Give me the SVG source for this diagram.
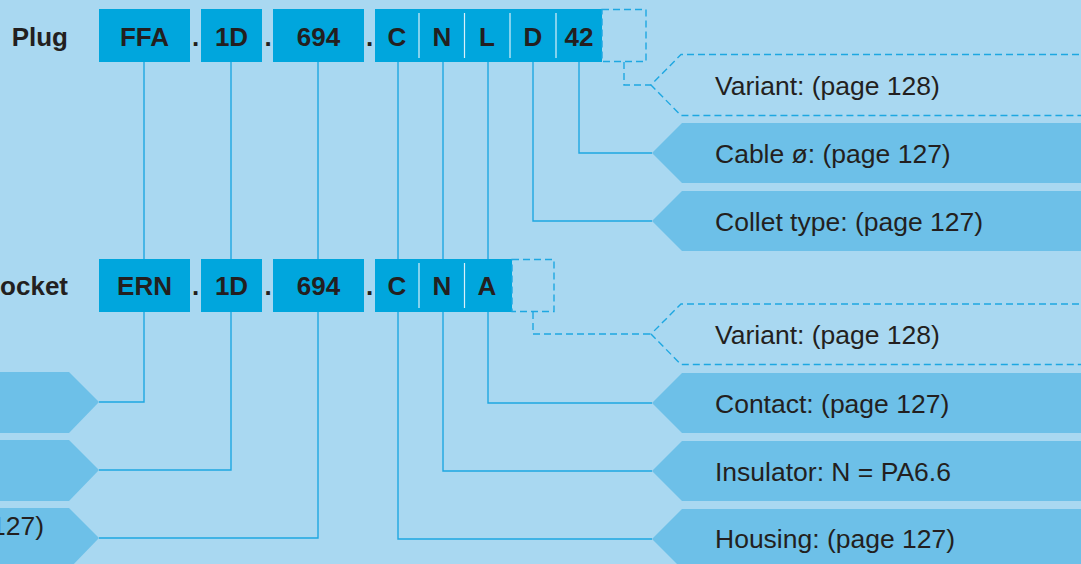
<svg xmlns="http://www.w3.org/2000/svg" width="1081" height="564" viewBox="0 0 1081 564">
<style>
.box{fill:#00a6dd}
.code{font-family:"Liberation Sans",Arial,sans-serif;font-weight:bold;font-size:26px;fill:#231f20;text-anchor:middle}
.lbl{font-family:"Liberation Sans",Arial,sans-serif;font-weight:bold;font-size:26px;fill:#231f20;text-anchor:end}
.txt{font-family:"Liberation Sans",Arial,sans-serif;font-size:26.5px;fill:#231f20}
.tag{fill:#6dc0e8}
.ln{fill:none;stroke:#1ea7e1;stroke-width:1.4}
.dash{fill:none;stroke:#1ea7e1;stroke-width:1.4;stroke-dasharray:7 4}
.div{stroke:#d9f0fa;stroke-width:1.2}
</style>
<rect width="1081" height="564" fill="#a9d8f1"/>

<g id="connectors">
<polyline class="ln" points="144,62 144,402 99,402"/>
<polyline class="ln" points="231,62 231,470 99,470"/>
<polyline class="ln" points="318,62 318,538 99,538"/>
<polyline class="ln" points="398,62 398,539 652,539"/>
<polyline class="ln" points="443,62 443,471 652,471"/>
<polyline class="ln" points="488,62 488,403 652,403"/>
<polyline class="ln" points="533,62 533,221 652,221"/>
<polyline class="ln" points="579,62 579,153 652,153"/>
<polyline class="dash" points="624,62 624,85 651,85"/>
<polyline class="dash" points="533,312 533,334 651,334"/>
</g>

<g id="plug">
<text class="lbl" x="68" y="46">Plug</text>
<rect class="box" x="99" y="9" width="91" height="53"/>
<text class="code" x="144.5" y="46">FFA</text>
<text class="code" x="195.5" y="46">.</text>
<rect class="box" x="201" y="9" width="61" height="53"/>
<text class="code" x="231.5" y="46">1D</text>
<text class="code" x="268" y="46">.</text>
<rect class="box" x="273" y="9" width="91" height="53"/>
<text class="code" x="318.5" y="46">694</text>
<text class="code" x="369.5" y="46">.</text>
<rect class="box" x="375" y="9" width="227" height="53"/>
<line class="div" x1="419" y1="13" x2="419" y2="58"/>
<line class="div" x1="464.5" y1="13" x2="464.5" y2="58"/>
<line class="div" x1="510" y1="13" x2="510" y2="58"/>
<line class="div" x1="556" y1="13" x2="556" y2="58"/>
<text class="code" x="397" y="46">C</text>
<text class="code" x="442" y="46">N</text>
<text class="code" x="487" y="46">L</text>
<text class="code" x="533" y="46">D</text>
<text class="code" x="579" y="46">42</text>
<rect class="dash" x="602" y="9.5" width="44" height="52"/>
</g>

<g id="socket">
<text class="lbl" x="68" y="295">ocket</text>
<rect class="box" x="99" y="259" width="91" height="53"/>
<text class="code" x="144.5" y="295">ERN</text>
<text class="code" x="195.5" y="295">.</text>
<rect class="box" x="201" y="259" width="61" height="53"/>
<text class="code" x="231.5" y="295">1D</text>
<text class="code" x="268" y="295">.</text>
<rect class="box" x="273" y="259" width="91" height="53"/>
<text class="code" x="318.5" y="295">694</text>
<text class="code" x="369.5" y="295">.</text>
<rect class="box" x="375" y="259" width="137" height="53"/>
<line class="div" x1="419" y1="263" x2="419" y2="308"/>
<line class="div" x1="464.5" y1="263" x2="464.5" y2="308"/>
<text class="code" x="397" y="295">C</text>
<text class="code" x="442" y="295">N</text>
<text class="code" x="487" y="295">A</text>
<rect class="dash" x="512" y="259.5" width="42" height="52"/>
</g>

<g id="plug-variant">
<polyline class="dash" points="1090,54.5 681,54.5 651,85 681,115.5 1090,115.5"/>
<text class="txt" x="715" y="95">Variant: (page 128)</text>
</g>
<g id="cable">
<polygon class="tag" points="652,153 682,123 1090,123 1090,183 682,183"/>
<text class="txt" x="715" y="163">Cable ø: (page 127)</text>
</g>
<g id="collet">
<polygon class="tag" points="652,221 682,191 1090,191 1090,251 682,251"/>
<text class="txt" x="715" y="231">Collet type: (page 127)</text>
</g>
<g id="socket-variant">
<polyline class="dash" points="1090,304 681,304 651,334 681,364.5 1090,364.5"/>
<text class="txt" x="715" y="344">Variant: (page 128)</text>
</g>
<g id="contact">
<polygon class="tag" points="652,403 682,373 1090,373 1090,433 682,433"/>
<text class="txt" x="715" y="413">Contact: (page 127)</text>
</g>
<g id="insulator">
<polygon class="tag" points="652,471 682,441 1090,441 1090,501 682,501"/>
<text class="txt" x="715" y="481">Insulator: N = PA6.6</text>
</g>
<g id="housing">
<polygon class="tag" points="652,539 682,509 1090,509 1090,569 682,569"/>
<text class="txt" x="715" y="548">Housing: (page 127)</text>
</g>

<g id="left-1">
<polygon class="tag" points="-10,372 69,372 99,402 69,433 -10,433"/>
</g>
<g id="left-2">
<polygon class="tag" points="-10,440 69,440 99,470 69,501 -10,501"/>
</g>
<g id="left-3">
<polygon class="tag" points="-10,508 69,508 99,538 69,569 -10,569"/>
<text class="txt" x="44" y="535" text-anchor="end">127)</text>
</g>
</svg>
